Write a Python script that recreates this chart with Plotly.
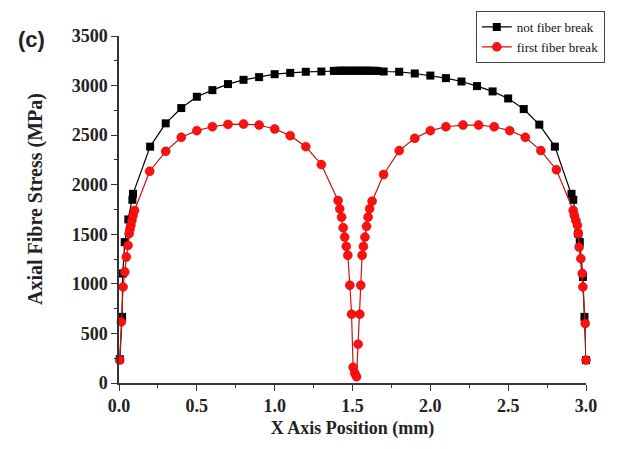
import plotly.graph_objects as go

# not fiber break
black_x = [0.005, 0.02, 0.024, 0.037, 0.06, 0.086, 0.09, 0.2, 0.3, 0.4, 0.5, 0.6, 0.7, 0.8, 0.9,
           1.0, 1.1, 1.2, 1.3, 1.38, 1.40, 1.42, 1.44, 1.46, 1.48, 1.50, 1.52, 1.54, 1.56, 1.58,
           1.60, 1.62, 1.64, 1.66, 1.7, 1.8, 1.9, 2.0, 2.1, 2.2, 2.3, 2.4, 2.5, 2.6, 2.7, 2.8,
           2.907, 2.918, 2.95, 2.96, 2.98, 2.99, 3.0]
black_y = [240, 667, 1104, 1421, 1650, 1848, 1908, 2384, 2619, 2773, 2887, 2954, 3015, 3058, 3085,
           3115, 3128, 3139, 3142, 3148, 3149, 3150, 3150, 3150, 3150, 3150, 3150, 3150, 3150, 3150,
           3150, 3149, 3149, 3148, 3142, 3139, 3122, 3101, 3075, 3041, 2995, 2941, 2870, 2763, 2606, 2384,
           1908, 1848, 1506, 1421, 1069, 667, 231]

# first fiber break
red_x = [0.005, 0.015, 0.026, 0.037, 0.047, 0.058, 0.065, 0.07, 0.076, 0.083, 0.09, 0.1,
         0.197, 0.3, 0.4, 0.5, 0.6, 0.7, 0.8, 0.9, 1.0, 1.1, 1.2, 1.3,
         1.407, 1.418, 1.43, 1.44, 1.45, 1.46, 1.47, 1.483, 1.494, 1.504, 1.515, 1.526,
         1.536, 1.547, 1.553, 1.562, 1.57, 1.58, 1.59, 1.60, 1.61, 1.626,
         1.70, 1.80, 1.90, 2.00, 2.10, 2.21, 2.31, 2.41, 2.51, 2.61, 2.71, 2.81,
         2.918, 2.925, 2.935, 2.945, 2.95, 2.956, 2.967, 2.976, 2.98, 2.995, 3.0]
red_y = [231, 617, 969, 1120, 1271, 1388, 1506, 1550, 1590, 1640, 1690, 1740,
         2136, 2337, 2478, 2545, 2585, 2608, 2612, 2602, 2562, 2495, 2384, 2203,
         1841, 1757, 1673, 1566, 1472, 1378, 1288, 986, 694, 158, 98, 63,
         392, 694, 986, 1288, 1378, 1472, 1580, 1673, 1757, 1834,
         2103, 2344, 2468, 2545, 2585, 2602, 2602, 2585, 2545, 2478, 2344, 2150,
         1740, 1690, 1640, 1590, 1506, 1371, 1254, 1104, 969, 600, 231]

x_ticks = [0.0, 0.5, 1.0, 1.5, 2.0, 2.5, 3.0]
y_ticks = [0, 500, 1000, 1500, 2000, 2500, 3000, 3500]

serif = "Liberation Serif"

fig = go.Figure()
fig.add_trace(go.Scatter(
    x=black_x, y=black_y, mode="lines+markers", name="not fiber break",
    line=dict(color="black", width=1.2),
    marker=dict(symbol="square", size=8, color="black"),
    cliponaxis=False,
))
fig.add_trace(go.Scatter(
    x=red_x, y=red_y, mode="lines+markers", name="first fiber break",
    line=dict(color="#d01010", width=1.2),
    marker=dict(symbol="circle", size=9, color="#ff1010",
                line=dict(color="#c00000", width=0.5)),
    cliponaxis=False,
))

axis_common = dict(
    showline=True, linecolor="#333333", linewidth=1.5, mirror=False,
    showgrid=False, zeroline=False,
    ticks="outside", ticklen=6, tickwidth=1.3, tickcolor="#333333",
    tickfont=dict(family=serif, size=18, color="#222222"),
)

fig.update_xaxes(
    range=[0, 3.0], tickvals=x_ticks, ticktext=[f"<b>{v:.1f}</b>" for v in x_ticks],
    minor=dict(dtick=0.25, tick0=0, ticks="outside", ticklen=3, tickcolor="#333333"),
    title=dict(text="<b>X Axis Position (mm)</b>", font=dict(family=serif, size=18, color="#222222"),
               standoff=6),
    **axis_common,
)
fig.update_yaxes(
    range=[0, 3500], tickvals=y_ticks, ticktext=[f"<b>{v}</b>" for v in y_ticks],
    minor=dict(dtick=250, tick0=0, ticks="outside", ticklen=3, tickcolor="#333333"),
    **axis_common,
)

fig.add_annotation(
    text="<b>Axial Fibre Stress (MPa)</b>", xref="paper", yref="paper",
    x=-0.180, y=0.530, xanchor="center", yanchor="middle", textangle=-90,
    showarrow=False, font=dict(family=serif, size=20, color="#222222"),
)

fig.add_annotation(
    text="<b>(c)</b>", xref="paper", yref="paper", x=-0.188, y=0.991,
    xanchor="center", yanchor="middle", showarrow=False,
    font=dict(family="Liberation Sans", size=22, color="#222222"),
)

fig.update_layout(
    width=626, height=449,
    margin=dict(l=119, r=40, t=35, b=66),
    plot_bgcolor="white", paper_bgcolor="white",
    showlegend=True,
    legend=dict(
        x=0.764, y=1.069, xanchor="left", yanchor="top",
        bordercolor="#444444", borderwidth=1, bgcolor="white",
        font=dict(family=serif, size=13, color="#111111"),
        tracegroupgap=0, itemwidth=30,
    ),
)

fig.write_html("out.html")
